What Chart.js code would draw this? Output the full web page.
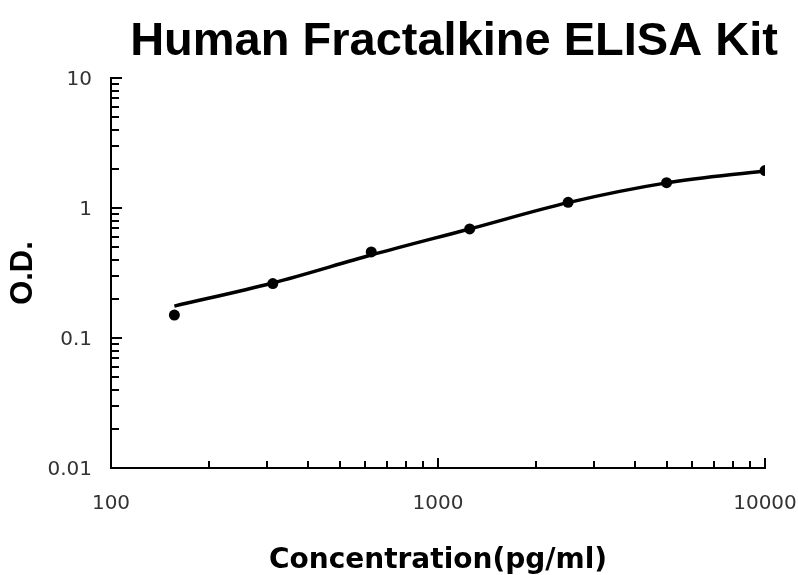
<!DOCTYPE html>
<html>
<head>
<meta charset="utf-8">
<script src="https://cdn.jsdelivr.net/npm/chart.js@4.4.1/dist/chart.umd.min.js"></script>
<style>
  html, body { margin: 0; padding: 0; background: #fff; }
  #wrap { width: 798px; height: 575px; position: relative; }
</style>
</head>
<body>
<div id="wrap"><canvas id="elisaChart"></canvas></div>
<script>
// standard curve data
const chartTitle = "Human Fractalkine ELISA Kit";
const concentrations = [156.25, 312.5, 625, 1250, 2500, 5000, 10000];
const odValues = [0.150, 0.262, 0.459, 0.69, 1.106, 1.566, 1.94];
const curveValues = [0.176, 0.265, 0.435, 0.69, 1.10, 1.56, 1.93];
const xMajorTicks = [100, 1000, 10000];
const yMajorTicks = [0.01, 0.1, 1, 10];

// majors plus 2..9 minors inside each decade
function decadeTicks(majors) {
    const out = [];
    majors.forEach((m, i) => {
        out.push({ value: m, major: true });
        if (i < majors.length - 1) {
            for (let k = 2; k <= 9; k++) out.push({ value: +(m * k).toPrecision(3), major: false });
        }
    });
    return out;
}

// ticks are drawn inward like in the original
const innerTicks = {
    id: 'innerTicks',
    afterDraw(chart) {
        const ctx = chart.ctx;
        const area = chart.chartArea;
        ctx.save();
        ctx.strokeStyle = '#000';
        ctx.lineWidth = 2;
        chart.scales.x.ticks.forEach(t => {
            const px = Math.round(chart.scales.x.getPixelForValue(t.value));
            const len = t.major ? 10 : 7;
            ctx.beginPath();
            ctx.moveTo(px, area.bottom);
            ctx.lineTo(px, area.bottom - len);
            ctx.stroke();
        });
        chart.scales.y.ticks.forEach(t => {
            const py = Math.round(chart.scales.y.getPixelForValue(t.value));
            const len = t.major ? 11 : 8;
            ctx.beginPath();
            ctx.moveTo(area.left, py);
            ctx.lineTo(area.left + len, py);
            ctx.stroke();
        });
        ctx.restore();
    }
};

const titleDraw = {
    id: 'titleDraw',
    afterDraw(chart) {
        const ctx = chart.ctx;
        ctx.save();
        ctx.fillStyle = '#000';
        ctx.font = 'bold 47px "Liberation Sans", Arial, sans-serif';
        ctx.textAlign = 'center';
        ctx.textBaseline = 'alphabetic';
        ctx.fillText(chartTitle, 454, 55);
        ctx.restore();
    }
};

new Chart(document.getElementById('elisaChart'), {
    type: 'line',
    data: {
        datasets: [
            {
                label: 'fit',
                data: concentrations.map((c, i) => ({ x: c, y: curveValues[i] })),
                borderColor: '#000',
                borderWidth: 3.5,
                pointRadius: 0,
                cubicInterpolationMode: 'monotone',
                fill: false
            },
            {
                label: 'O.D.',
                data: concentrations.map((c, i) => ({ x: c, y: odValues[i] })),
                showLine: false,
                pointRadius: 5.5,
                pointBackgroundColor: '#000',
                pointBorderColor: '#000',
                pointBorderWidth: 0
            }
        ]
    },
    options: {
        responsive: true,
        maintainAspectRatio: false,
        animation: false,
        layout: { padding: { top: 78, right: 33, bottom: 0, left: 0 } },
        plugins: { legend: { display: false }, tooltip: { enabled: false }, title: { display: false } },
        scales: {
            x: {
                type: 'logarithmic',
                min: 100,
                max: 10000,
                afterBuildTicks: s => { s.ticks = decadeTicks(xMajorTicks); },
                afterFit: s => { s.height = 107; s.paddingLeft = 0; s.paddingRight = 0; },
                grid: { display: false, drawTicks: false },
                border: { display: true, color: '#000', width: 2 },
                ticks: {
                    autoSkip: false,
                    maxRotation: 0,
                    padding: 24,
                    color: '#333',
                    font: { family: '"DejaVu Sans", Verdana, sans-serif', size: 20 },
                    callback: v => xMajorTicks.includes(v) ? String(v) : ''
                },
                title: {
                    display: true,
                    text: 'Concentration(pg/ml)',
                    color: '#000',
                    font: { family: '"DejaVu Sans", Verdana, sans-serif', size: 28, weight: 'bold' },
                    padding: { top: 29, bottom: -3 }
                }
            },
            y: {
                type: 'logarithmic',
                min: 0.01,
                max: 10,
                afterBuildTicks: s => { s.ticks = decadeTicks(yMajorTicks); },
                afterFit: s => { s.width = 111; s.paddingTop = 0; s.paddingBottom = 0; },
                grid: { display: false, drawTicks: false },
                border: { display: true, color: '#000', width: 2 },
                ticks: {
                    autoSkip: false,
                    padding: 19,
                    labelOffset: 2,
                    color: '#333',
                    font: { family: '"DejaVu Sans", Verdana, sans-serif', size: 20 },
                    callback: v => yMajorTicks.includes(v) ? String(v) : ''
                },
                title: {
                    display: true,
                    text: 'O.D.',
                    color: '#000',
                    font: { family: '"Liberation Sans", Arial, sans-serif', size: 31, weight: 'bold' },
                    padding: { top: 5, bottom: 0 }
                }
            }
        }
    },
    plugins: [innerTicks, titleDraw]
});
</script>
</body>
</html>
